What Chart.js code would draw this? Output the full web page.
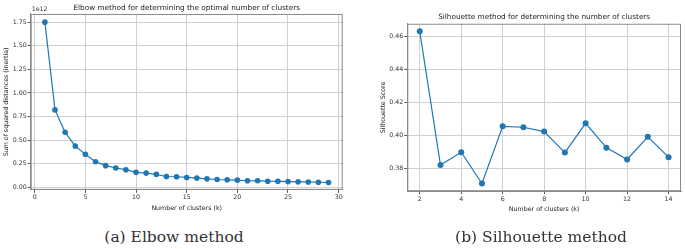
<!DOCTYPE html>
<html>
<head>
<meta charset="utf-8">
<script src="https://cdn.jsdelivr.net/npm/chart.js@4.4.1/dist/chart.umd.min.js"></script>
<style>
  body { margin: 0; background: #fff; width: 685px; height: 249px; position: relative; overflow: hidden; }
  canvas { position: absolute; top: 0; }
  #elbow { left: 0; }
  #silhouette { left: 345px; }
  .cap { position: absolute; top: 229px; line-height: 16px; font-family: "DejaVu Serif", "Liberation Serif", serif;
         font-size: 15.5px; color: #333; transform: translateX(-50%); white-space: nowrap; }
</style>
</head>
<body>
<canvas id="elbow" width="373" height="215"></canvas>
<canvas id="silhouette" width="398" height="215"></canvas>
<div class="cap" style="left:174px">(a) Elbow method</div>
<div class="cap" style="left:541px">(b) Silhouette method</div>

<script>
// elbow data (inertia in units of 1e12)
const elbowK = [1, 2, 3, 4, 5, 6, 7, 8, 9, 10, 11, 12, 13, 14, 15, 16, 17, 18, 19, 20, 21, 22, 23, 24, 25, 26, 27, 28, 29];
const elbowInertia = [1.75, 0.82, 0.582, 0.436, 0.35, 0.271, 0.229, 0.204, 0.186, 0.158, 0.15, 0.136, 0.114, 0.111, 0.104,
  0.097, 0.089, 0.082, 0.079, 0.075, 0.069, 0.068, 0.064, 0.063, 0.06, 0.057, 0.056, 0.053, 0.05];
const elbowXTicks = [0, 5, 10, 15, 20, 25, 30];
const elbowYTicks = [0, 0.25, 0.5, 0.75, 1.0, 1.25, 1.5, 1.75];

// silhouette data
const silK = [2, 3, 4, 5, 6, 7, 8, 9, 10, 11, 12, 13, 14];
const silScore = [0.4632, 0.3818, 0.3896, 0.3706, 0.4054, 0.4048, 0.4022, 0.3894, 0.4072, 0.3924, 0.3852, 0.3990, 0.3866];
const silXTicks = [2, 4, 6, 8, 10, 12, 14];
const silYTicks = [0.38, 0.40, 0.42, 0.44, 0.46];

const FONT = 'DejaVu Sans';
const BLUE = '#1f77b4';
const GRID = '#d0d0d0';
const SPINE = '#8a8a8a';

// matplotlib style frame (all four spines) + the "1e12" offset text
const framePlugin = {
  id: 'frame',
  afterDraw(chart, args, opts) {
    const { ctx, chartArea: a } = chart;
    ctx.save();
    ctx.strokeStyle = SPINE;
    ctx.lineWidth = 1;
    ctx.strokeRect(a.left + 0.5, a.top + 0.5, a.right - a.left - 1, a.bottom - a.top - 1);
    if (opts.offsetText) {
      ctx.fillStyle = '#333';
      ctx.font = '6.3px "' + FONT + '"';
      ctx.textAlign = 'left';
      ctx.textBaseline = 'bottom';
      ctx.fillText(opts.offsetText, a.left + 1, a.top - 1);
    }
    ctx.restore();
  }
};

function axis(min, max, ticks, title, fmt) {
  return {
    type: 'linear',
    min: min,
    max: max,
    afterBuildTicks: s => { s.ticks = ticks.map(v => ({ value: v })); },
    ticks: {
      font: { family: FONT, size: 6.3 },
      color: '#333',
      padding: 1,
      maxRotation: 0,
      callback: fmt
    },
    grid: { color: GRID, lineWidth: 1, tickLength: 3, tickColor: '#555' },
    border: { color: SPINE },
    title: {
      display: true,
      text: title,
      font: { family: FONT, size: 6.3 },
      color: '#222',
      padding: { top: 2, bottom: 0 }
    }
  };
}

// empty right-hand axis as wide as the left one, so the title sits over the plot centre
function spacer(w) {
  return {
    type: 'linear',
    position: 'right',
    ticks: { display: false },
    grid: { display: false },
    border: { display: false },
    afterFit: s => { s.width = w; }
  };
}

new Chart(document.getElementById('elbow'), {
  type: 'line',
  data: {
    datasets: [{
      data: elbowK.map((k, i) => ({ x: k, y: elbowInertia[i] })),
      borderColor: BLUE,
      backgroundColor: BLUE,
      borderWidth: 1.2,
      pointRadius: 2.8,
      pointBorderWidth: 0,
      pointBackgroundColor: BLUE
    }]
  },
  options: {
    responsive: false,
    animation: false,
    devicePixelRatio: 1,
    layout: { padding: { left: 0.7, right: 0.3, top: 0, bottom: 3 } },
    plugins: {
      legend: { display: false },
      tooltip: { enabled: false },
      title: {
        display: true,
        text: 'Elbow method for determining the optimal number of clusters',
        font: { family: FONT, size: 7.3, weight: 'normal' },
        color: '#222',
        padding: { top: 3.6, bottom: 1.6 }
      },
      frame: { offsetText: '1e12' }
    },
    scales: {
      x: axis(-0.4, 30.4, elbowXTicks, 'Number of clusters (k)', v => String(v)),
      y: Object.assign(axis(-0.028, 1.837, elbowYTicks, 'Sum of squared distances (inertia)', v => v.toFixed(2)),
        { afterFit: s => { s.width = 30; } }),
      pad: spacer(30)
    }
  },
  plugins: [framePlugin]
});

new Chart(document.getElementById('silhouette'), {
  type: 'line',
  data: {
    datasets: [{
      data: silK.map((k, i) => ({ x: k, y: silScore[i] })),
      borderColor: BLUE,
      backgroundColor: BLUE,
      borderWidth: 1.2,
      pointRadius: 3,
      pointBorderWidth: 0,
      pointBackgroundColor: BLUE
    }]
  },
  options: {
    responsive: false,
    animation: false,
    devicePixelRatio: 1,
    layout: { padding: { left: 33, right: 32.7, top: 0, bottom: 1.7 } },
    plugins: {
      legend: { display: false },
      tooltip: { enabled: false },
      title: {
        display: true,
        text: 'Silhouette method for determining the number of clusters',
        font: { family: FONT, size: 7.3, weight: 'normal' },
        color: '#222',
        padding: { top: 13, bottom: 2 }
      },
      frame: {}
    },
    scales: {
      x: axis(1.4, 14.6, silXTicks, 'Number of clusters (k)', v => String(v)),
      y: Object.assign(axis(0.3659, 0.4678, silYTicks, 'Silhouette Score', v => v.toFixed(2)),
        { afterFit: s => { s.width = 29.3; } }),
      pad: spacer(29.3)
    }
  },
  plugins: [framePlugin]
});
</script>
</body>
</html>
